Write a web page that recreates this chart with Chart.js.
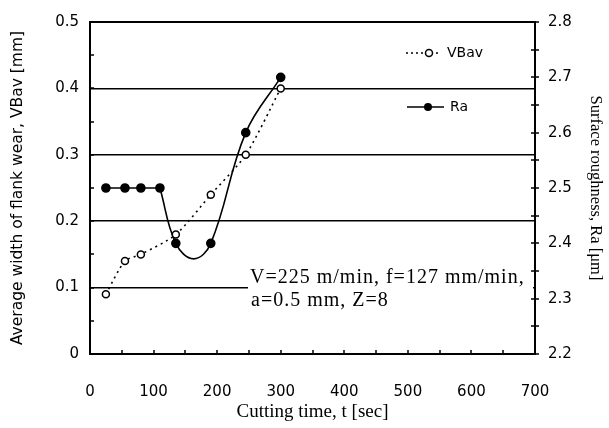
<!DOCTYPE html>
<html>
<head>
<meta charset="utf-8">
<script src="https://cdn.jsdelivr.net/npm/chart.js@4/dist/chart.umd.min.js"></script>
<style>
html, body { margin: 0; padding: 0; background: #fff; }
#wrap { width: 609px; height: 428px; }
</style>
</head>
<body>
<div id="wrap"><canvas id="chart"></canvas></div>
<script>
// datos
const vbTime = [25, 55, 80, 135, 190, 245, 300];
const vbValues = [0.09, 0.14, 0.15, 0.18, 0.24, 0.30, 0.40];
const raTime = [25, 55, 80, 110, 135, 190, 245, 300];
const raValues = [2.5, 2.5, 2.5, 2.5, 2.4, 2.4, 2.6, 2.7];
// curva suavizada de Ra tal como aparece (baja entre 135 y 190 s)
const raCurveTime = [110, 135, 163, 190, 245, 300];
const raCurveValues = [2.5, 2.4, 2.372, 2.4, 2.6, 2.7];
const xTickLabels = [0, 100, 200, 300, 400, 500, 600, 700];
const vbTickLabels = [0, 0.1, 0.2, 0.3, 0.4, 0.5];
const raTickLabels = [2.2, 2.3, 2.4, 2.5, 2.6, 2.7, 2.8];
const noteLines = ['V=225 m/min, f=127 mm/min,', 'a=0.5 mm, Z=8'];

const pts = (xs, ys) => xs.map((x, i) => ({ x: x, y: ys[i] }));
const serif = '"Liberation Serif", "DejaVu Serif", serif';
const sans = '"DejaVu Sans", sans-serif';

// marco, marcas menores, leyenda y nota
const extras = {
    id: 'extras',
    beforeDatasetsDraw(chart) {
        const c = chart.ctx;
        const a = chart.chartArea;
        c.save();
        c.font = '20px ' + serif;
        c.letterSpacing = '1px';
        c.fillStyle = '#fff';
        c.fillRect(248, 265, a.right - 250, 46);
        c.fillStyle = '#000';
        c.textBaseline = 'alphabetic';
        c.fillText(noteLines[0], 250, 283);
        c.fillText(noteLines[1], 251, 306);
        c.restore();
    },
    afterDraw(chart) {
        const c = chart.ctx;
        const a = chart.chartArea;
        const sx = chart.scales.x, sy = chart.scales.y, sr = chart.scales.y2;
        c.save();
        c.strokeStyle = '#000';
        c.lineWidth = 2;
        c.strokeRect(a.left, a.top, a.right - a.left, a.bottom - a.top);
        c.lineWidth = 1.5;
        c.beginPath();
        for (let v = 0; v <= 0.5001; v += 0.05) {
            const y = Math.round(sy.getPixelForValue(v));
            c.moveTo(a.left, y); c.lineTo(a.left + 4, y);
        }
        for (let v = 2.2; v <= 2.8001; v += 0.05) {
            const y = Math.round(sr.getPixelForValue(v));
            c.moveTo(a.right - 4, y); c.lineTo(a.right + 4, y);
        }
        for (let v = 0; v <= 700; v += 50) {
            const x = Math.round(sx.getPixelForValue(v));
            c.moveTo(x, a.bottom); c.lineTo(x, a.bottom - 4);
        }
        c.stroke();

        // leyenda
        c.font = '14px ' + sans;
        c.fillStyle = '#000';
        c.textBaseline = 'middle';
        c.lineWidth = 1.5;
        c.setLineDash([2, 3]);
        c.beginPath(); c.moveTo(406, 53); c.lineTo(440, 53); c.stroke();
        c.setLineDash([]);
        c.fillStyle = '#fff';
        c.beginPath(); c.arc(429, 53, 3.5, 0, Math.PI * 2); c.fill(); c.stroke();
        c.fillStyle = '#000';
        c.fillText('VBav', 447, 53);
        c.lineWidth = 1.5;
        c.beginPath(); c.moveTo(407, 107); c.lineTo(444, 107); c.stroke();
        c.beginPath(); c.arc(428, 107, 4, 0, Math.PI * 2); c.fill();
        c.fillText('Ra', 450, 107);
        c.restore();
    }
};

new Chart(document.getElementById('chart'), {
    type: 'line',
    data: {
        datasets: [{
            label: 'VBav',
            data: pts(vbTime, vbValues),
            yAxisID: 'y',
            borderColor: '#000',
            borderWidth: 1.6,
            borderDash: [2, 4],
            tension: 0.25,
            pointRadius: 3.5,
            pointBorderWidth: 1.5,
            pointBackgroundColor: '#fff',
            pointBorderColor: '#000'
        }, {
            label: 'Ra',
            data: pts(raTime, raValues),
            yAxisID: 'y2',
            borderColor: '#000',
            borderWidth: 1.6,
            tension: 0,
            pointRadius: 4,
            pointBackgroundColor: '#000',
            pointBorderColor: '#000',
            segment: {
                borderColor: ctx => ctx.p0DataIndex < 3 ? '#000' : 'rgba(0,0,0,0)'
            }
        }, {
            label: 'Ra curve',
            data: pts(raCurveTime, raCurveValues),
            yAxisID: 'y2',
            borderColor: '#000',
            borderWidth: 1.6,
            tension: 0.4,
            pointRadius: 0
        }]
    },
    options: {
        responsive: true,
        maintainAspectRatio: false,
        animation: false,
        layout: { padding: { top: 14, left: 0, right: 0, bottom: 0 } },
        plugins: {
            legend: { display: false },
            tooltip: { enabled: false }
        },
        scales: {
            x: {
                type: 'linear',
                min: 0, max: 700,
                afterFit: s => { s.height = 74; },
                afterBuildTicks: s => { s.ticks = xTickLabels.map(v => ({ value: v })); },
                grid: { display: false, drawTicks: false },
                border: { display: false },
                ticks: { color: '#000', padding: 29, font: { family: sans, size: 15 } },
                title: {
                    display: true,
                    text: 'Cutting time, t [sec]',
                    color: '#000',
                    font: { family: serif, size: 19 },
                    padding: { top: 0, bottom: 5 }
                }
            },
            y: {
                position: 'left',
                min: 0, max: 0.5,
                afterFit: s => { s.width = 90; },
                afterBuildTicks: s => { s.ticks = vbTickLabels.map(v => ({ value: v })); },
                grid: { color: '#000', lineWidth: 1.5, drawTicks: false },
                border: { display: false },
                ticks: { color: '#000', padding: 11, font: { family: sans, size: 15 } },
                title: {
                    display: true,
                    text: 'Average width of flank wear, VBav [mm]',
                    color: '#000',
                    font: { family: sans, size: 15.5 },
                    padding: { top: 8.5, bottom: 0 }
                }
            },
            y2: {
                position: 'right',
                min: 2.2, max: 2.8,
                afterFit: s => { s.width = 74; },
                afterBuildTicks: s => { s.ticks = raTickLabels.map(v => ({ value: v })); },
                grid: { display: false, drawTicks: false },
                border: { display: false },
                ticks: { color: '#000', padding: 13, font: { family: sans, size: 15 } },
                title: {
                    display: true,
                    text: 'Surface roughness, Ra [μm]',
                    color: '#000',
                    font: { family: serif, size: 16.5 },
                    padding: { top: 4, bottom: 0 }
                }
            }
        }
    },
    plugins: [extras]
});
</script>
</body>
</html>
